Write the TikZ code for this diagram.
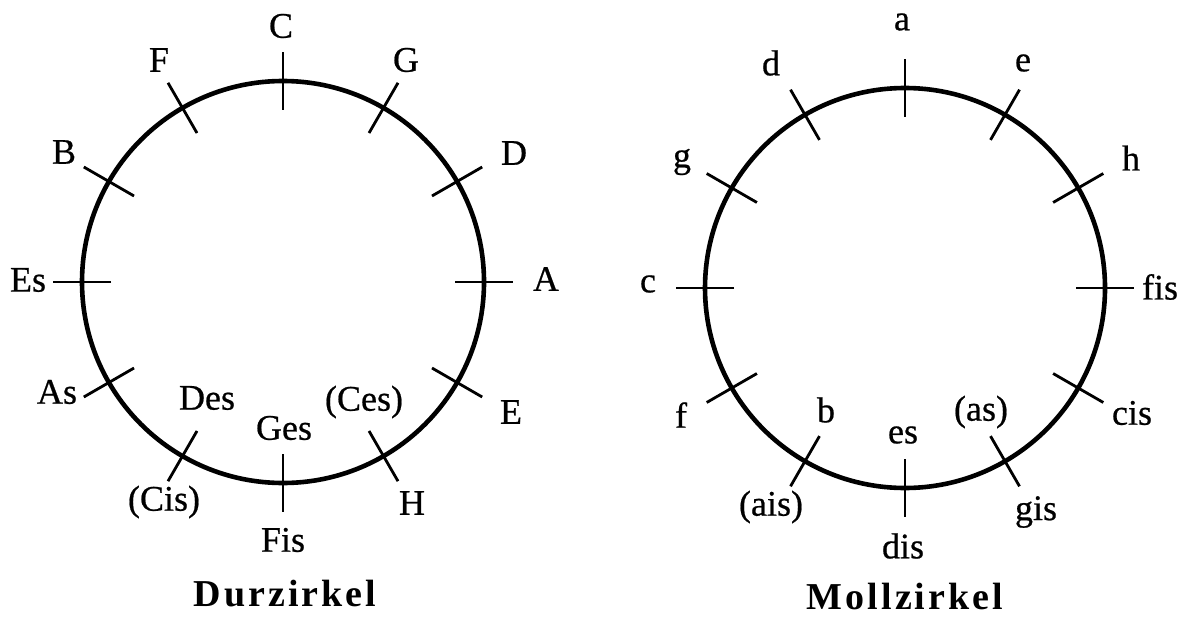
\documentclass[tikz,border=0pt]{standalone}
\usepackage{fontspec}
\setmainfont{Liberation Serif}
\newfontfamily\labfont[FakeBold=0.6]{Liberation Serif}
\usetikzlibrary{calc}
\begin{document}
\begin{tikzpicture}[x=0.5pt,y=-0.5pt,
  ring/.style={line width=2.3pt},
  notch/.style={line width=1.4pt},
  lab/.style={inner sep=0pt, font=\labfont\fontsize{18}{20}\selectfont},
  title/.style={inner sep=0pt, font=\fontsize{19}{22}\selectfont\bfseries\addfontfeature{LetterSpace=8}}]
\useasboundingbox (0,0) rectangle (1186,620);
\coordinate (L) at (283,282);
\coordinate (R) at (905,288);
\draw[ring] (L) circle [radius=201];
\draw[ring] (R) circle [radius=200];
\foreach \a in {0,30,...,330}{
  \draw[notch] ($(L)+(-\a:172)$) -- ($(L)+(-\a:230)$);
  \draw[notch] ($(R)+(-\a:171)$) -- ($(R)+(-\a:229)$);
}
% Durzirkel
\node[lab] (C) at (281,26) {C};
\node[lab] (G) at (406,60) {G};
\node[lab] (D) at (514,153) {D};
\node[lab] (A) at (546,279) {A};
\node[lab] (E) at (511,412) {E};
\node[lab] (H) at (412,503) {H};
\node[lab] (Fis) at (283,540) {Fis};
\node[lab] (Ges) at (284,428) {Ges};
\node[lab] (Ces) at (364,402) {(Ces)};
\node[lab] (Des) at (207,398) {Des};
\node[lab] (Cis) at (164,502) {(Cis)};
\node[lab] (As) at (57,392) {As};
\node[lab] (Es) at (28,280) {Es};
\node[lab] (B) at (64,152) {B};
\node[lab] (F) at (159,60) {F};
\node[title] (dur) at (285,594) {Durzirkel};
% Mollzirkel
\node[lab] (a) at (902,22) {a};
\node[lab] (e) at (1023,63) {e};
\node[lab] (h) at (1131,158) {h};
\node[lab] (fis) at (1160,287) {fis};
\node[lab] (cis) at (1132,413) {cis};
\node[lab] (gis) at (1036,512) {gis};
\node[lab] (dis) at (903,546) {dis};
\node[lab] (es) at (903,435) {es};
\node[lab] (as) at (981,412) {(as)};
\node[lab] (b) at (826,410) {b};
\node[lab] (ais) at (771,507) {(ais)};
\node[lab] (f) at (681,415) {f};
\node[lab] (c) at (648,284) {c};
\node[lab] (g) at (682,162) {g};
\node[lab] (d) at (771,63) {d};
\node[title] (moll) at (905,596) {Mollzirkel};
\end{tikzpicture}
\end{document}
